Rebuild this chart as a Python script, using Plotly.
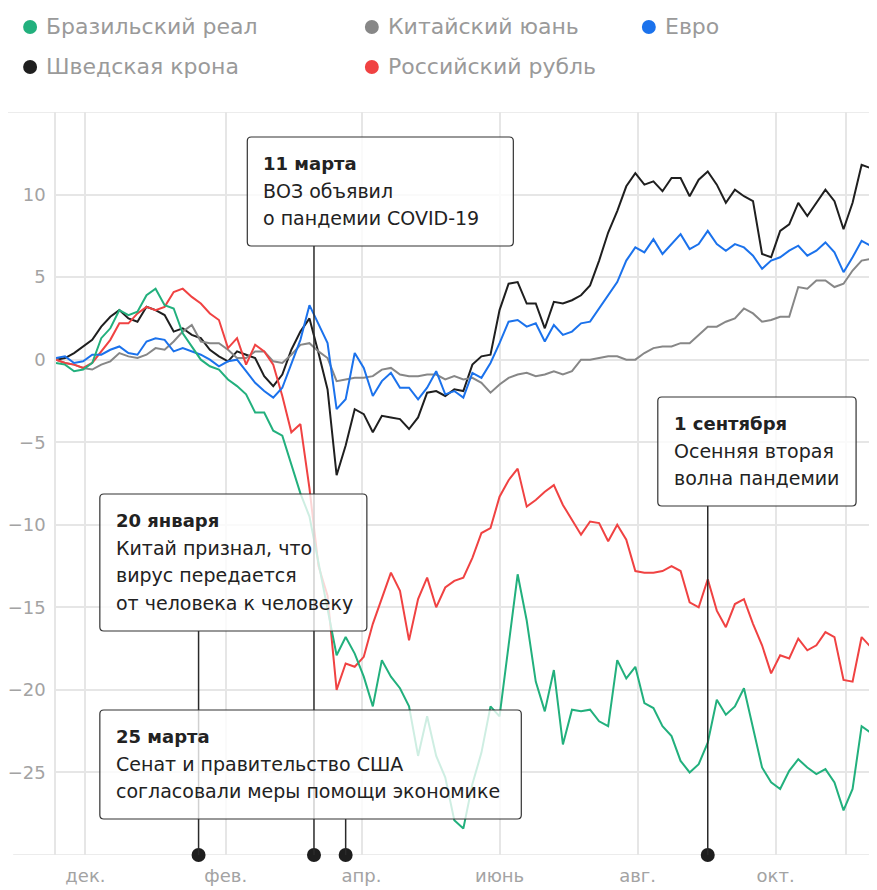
import plotly.graph_objects as go
import pandas as pd

# ---- data: change vs. USD, % (one value every 4 days) ----
dates = pd.date_range("2019-11-18", periods=92, freq="4D")

brl = [-0.2, -0.3, -0.7, -0.6, -0.2, 1.3, 1.9, 3.0, 2.7, 2.9,
       3.9, 4.3, 3.3, 3.1, 1.6, 0.8, 0.0, -0.4, -0.6, -1.2,
       -1.6, -2.1, -3.2, -3.2, -4.3, -4.6, -6.4, -8.1, -9.5, -12.3,
       -15.0, -17.9, -16.8, -17.8, -19.2, -21.0, -18.2, -19.2, -19.9, -21.0,
       -24.0, -21.6, -24.0, -25.3, -27.9, -28.4, -25.7, -23.8, -21.0, -21.6,
       -17.3, -13.0, -15.8, -19.5, -21.3, -18.8, -23.3, -21.2, -21.3, -21.2,
       -21.9, -22.2, -18.2, -19.3, -18.6, -20.8, -21.1, -22.2, -22.8, -24.3,
       -25.0, -24.5, -23.2, -20.6, -21.5, -21.0, -19.9, -22.4, -24.7, -25.6,
       -26.0, -24.9, -24.2, -24.7, -25.1, -24.8, -25.6, -27.3, -26.0, -22.2,
       -22.6, -23.2]

cny = [0.0, -0.2, -0.3, -0.5, -0.6, -0.3, -0.1, 0.4, 0.2, 0.1,
       0.3, 0.7, 0.6, 1.1, 1.7, 2.1, 1.1, 1.0, 1.0, 0.6,
       0.1, 0.1, 0.5, 0.5, -0.1, -0.2, 0.3, 0.9, 1.0, 0.5,
       0.1, -1.3, -1.2, -1.1, -1.1, -1.0, -0.6, -0.5, -0.9, -1.0,
       -1.0, -0.9, -0.9, -1.2, -1.0, -1.2, -1.1, -1.4, -2.0, -1.5,
       -1.1, -0.9, -0.8, -1.0, -0.9, -0.7, -0.9, -0.7, 0.0, 0.0,
       0.1, 0.2, 0.2, 0.0, 0.0, 0.4, 0.7, 0.8, 0.8, 1.0,
       1.0, 1.5, 2.0, 2.0, 2.3, 2.5, 3.1, 2.8, 2.3, 2.4,
       2.6, 2.6, 4.4, 4.3, 4.8, 4.8, 4.4, 4.6, 5.4, 6.0,
       6.1, 6.3]

eur = [0.1, 0.2, -0.2, -0.1, 0.3, 0.3, 0.6, 0.8, 0.4, 0.3,
       1.1, 1.3, 1.2, 0.5, 0.7, 0.5, 0.3, 0.0, -0.4, -0.1,
       0.0, -0.7, -1.4, -1.9, -2.3, -1.7, -0.2, 1.2, 3.3, 2.1,
       1.0, -3.0, -2.4, 0.4, -0.5, -2.2, -1.3, -0.8, -1.7, -1.7,
       -2.4, -1.7, -0.7, -2.1, -1.9, -2.3, -0.8, -1.1, -0.2, 1.0,
       2.3, 2.4, 2.0, 2.2, 1.1, 2.1, 1.5, 1.7, 2.2, 2.3,
       3.1, 3.9, 4.7, 6.0, 6.8, 6.5, 7.3, 6.4, 7.0, 7.6,
       6.7, 7.0, 7.8, 7.0, 6.6, 7.0, 6.8, 6.3, 5.5, 6.0,
       6.2, 6.6, 6.9, 6.3, 6.6, 7.1, 6.5, 5.3, 6.2, 7.2,
       6.9, 7.1]

sek = [0.0, 0.1, 0.4, 0.8, 1.2, 2.0, 2.6, 3.0, 2.5, 2.3,
       3.2, 3.0, 2.7, 1.7, 1.9, 1.5, 1.3, 0.6, 0.2, -0.1,
       0.5, 0.3, 0.1, -1.0, -1.6, -0.9, 0.6, 1.7, 2.5, 0.4,
       -1.8, -7.0, -5.2, -3.0, -3.3, -4.4, -3.4, -3.5, -3.6, -4.2,
       -3.5, -2.0, -1.9, -2.2, -1.8, -1.9, -0.3, 0.2, 0.3, 3.0,
       4.6, 4.7, 3.4, 3.4, 1.9, 3.5, 3.4, 3.6, 3.9, 4.5,
       6.0, 7.7, 9.0, 10.5, 11.3, 10.6, 10.8, 10.2, 11.0, 11.0,
       9.9, 10.9, 11.4, 10.6, 9.5, 10.3, 9.9, 9.6, 6.4, 6.2,
       7.8, 8.2, 9.5, 8.7, 9.5, 10.3, 9.6, 7.9, 9.5, 11.8,
       11.6, 10.8]

rub = [0.0, -0.2, -0.3, -0.5, -0.2, 0.5, 1.2, 2.2, 2.2, 2.8,
       3.2, 3.0, 3.2, 4.1, 4.3, 3.8, 3.4, 2.8, 2.4, 0.7,
       1.3, -0.3, 0.9, 0.5, -0.3, -2.2, -4.4, -3.9, -7.8, -12.5,
       -14.3, -20.0, -18.4, -18.6, -18.0, -16.0, -14.5, -12.9, -14.0, -17.0,
       -14.5, -13.2, -15.0, -13.8, -13.4, -13.2, -12.0, -10.5, -10.2, -8.3,
       -7.3, -6.6, -8.9, -8.5, -8.0, -7.6, -8.8, -9.7, -10.6, -9.8,
       -9.9, -11.0, -10.0, -10.9, -12.8, -12.9, -12.9, -12.8, -12.5, -12.8,
       -14.7, -15.0, -13.3, -15.2, -16.2, -14.8, -14.5, -16.0, -17.3, -19.0,
       -17.9, -18.1, -16.9, -17.6, -17.3, -16.5, -16.8, -19.4, -19.5, -16.8,
       -17.4, -17.6]

names = ["Бразильский реал", "Китайский юань", "Евро", "Шведская крона", "Российский рубль"]
colors = ["#22b07d", "#878787", "#1b72ec", "#1f1f1f", "#f04242"]
series = [brl, cny, eur, sek, rub]

tick_dates = ["2019-12-01", "2020-02-01", "2020-04-01", "2020-06-01",
              "2020-08-01", "2020-10-01", "2020-11-01"]
tick_labels = ["дек.", "фев.", "апр.", "июнь", "авг.", "окт.", ""]
y_ticks = [-25, -20, -15, -10, -5, 0, 5, 10]

event_dates = ["2020-01-20", "2020-03-11", "2020-03-25", "2020-09-01"]
event_titles = ["20 января", "11 марта", "25 марта", "1 сентября"]
event_lines = [["Китай признал, что", "вирус передается", "от человека к человеку"],
               ["ВОЗ объявил", "о пандемии COVID-19"],
               ["Сенат и правительство США", "согласовали меры помощи экономике"],
               ["Осенняя вторая", "волна пандемии"]]

# ---- geometry (screen pixels; the page body adds an 8px margin) ----
OFF = 8
W, H = 877 - OFF, 890 - OFF
PL, PR, PT, PB = 53, 877, 112, 855      # plot area edges on screen
FONT = "DejaVu Sans"
GRID = "#e6e6e6"

# callout boxes (left, top, right, bottom), same order as events
boxes = [(97, 494, 365, 631), (245, 137, 512, 246), (97, 710, 520, 819), (657, 397, 856, 506)]
legend_pos = [(27, 27), (370, 27), (648, 27), (27, 67), (370, 67)]


def xp(px):
    return (px - PL) / (PR - PL)


def yp(py):
    return (PB - py) / (PB - PT)


def rounded(x0, y0, x1, y1, r=4):
    a, b = xp(x0), xp(x1)
    top, bot = yp(y0), yp(y1)
    rx, ry = r / (PR - PL), r / (PB - PT)
    return (f"M {a + rx},{top} L {b - rx},{top} Q {b},{top} {b},{top - ry} "
            f"L {b},{bot + ry} Q {b},{bot} {b - rx},{bot} L {a + rx},{bot} "
            f"Q {a},{bot} {a},{bot + ry} L {a},{top - ry} Q {a},{top} {a + rx},{top} Z")


fig = go.Figure()

#----------------------------------------------------------------------------------------------------
# lines (drawing order: black, grey, red, blue, green on top)
for i in [3, 1, 4, 2, 0]:
    fig.add_trace(go.Scatter(x=dates, y=series[i], mode="lines", name=names[i],
                             line=dict(color=colors[i], width=2),
                             showlegend=False, hoverinfo="skip"))

# event dots on the baseline
fig.add_trace(go.Scatter(x=event_dates, y=[-30] * len(event_dates), mode="markers",
                         marker=dict(size=14, color="#1e1e1e"), cliponaxis=False,
                         showlegend=False, hoverinfo="skip"))

shapes = []
# grid lines at 15 and -30 run further left than the others
shapes.append(dict(type="line", xref="paper", yref="y", x0=xp(0), x1=1, y0=15, y1=15,
                   line=dict(color=GRID, width=1.5), layer="below"))
shapes.append(dict(type="line", xref="paper", yref="y", x0=xp(10), x1=1, y0=-30, y1=-30,
                   line=dict(color=GRID, width=1.5), layer="below"))

# stems from the dots up to the boxes
for d, bx in zip(event_dates, boxes):
    shapes.append(dict(type="line", xref="x", yref="paper", x0=d, x1=d, y0=0, y1=yp(bx[3]),
                       line=dict(color="#2a2a2a", width=1.5), layer="above"))

# semi-transparent boxes over the lines
for bx in boxes:
    shapes.append(dict(type="path", xref="paper", yref="paper", path=rounded(*bx),
                       fillcolor="rgba(255,255,255,0.78)",
                       line=dict(color="#333333", width=1.2), layer="above"))

annotations = []
for bx, title, lines in zip(boxes, event_titles, event_lines):
    tx = bx[0] + 14
    ty = bx[1] + 26
    annotations.append(dict(x=xp(tx), y=yp(ty), xref="paper", yref="paper",
                            text=f"<b>{title}</b>", showarrow=False,
                            xanchor="left", yanchor="middle",
                            font=dict(family=FONT, size=18, color="#222222")))
    for j, ln in enumerate(lines):
        annotations.append(dict(x=xp(tx), y=yp(ty + 27.5 * (j + 1)), xref="paper", yref="paper",
                                text=ln, showarrow=False, xanchor="left", yanchor="middle",
                                font=dict(family=FONT, size=19, color="#222222")))

# legend
for (cx, cy), name, col in zip(legend_pos, names, colors):
    shapes.append(dict(type="circle", xref="paper", yref="paper",
                       x0=xp(cx - 7), x1=xp(cx + 7), y0=yp(cy + 7), y1=yp(cy - 7),
                       fillcolor=col, line=dict(width=0)))
    annotations.append(dict(x=xp(cx + 14), y=yp(cy), xref="paper", yref="paper",
                            text=name, showarrow=False, xanchor="left", yanchor="middle",
                            font=dict(family=FONT, size=22, color="#9a9a9a")))

fig.update_layout(
    width=W, height=H,
    margin=dict(l=PL - OFF, r=0, t=PT - OFF, b=H - (PB - OFF)),
    paper_bgcolor="white", plot_bgcolor="white",
    shapes=shapes, annotations=annotations,
    showlegend=False,
    font=dict(family=FONT),
)

fig.update_xaxes(type="date", range=["2019-11-18 00:00", "2020-11-14 19:00"],
                 tickvals=tick_dates, ticktext=tick_labels,
                 showgrid=True, gridcolor=GRID, gridwidth=1.5,
                 zeroline=False, showline=False, ticks="",
                 ticklabelstandoff=8,
                 tickfont=dict(family=FONT, size=18, color="#a3a3a3"))

fig.update_yaxes(range=[-30, 15], tickvals=y_ticks,
                 ticktext=[str(v).replace("-", "\u2212") for v in y_ticks],
                 showgrid=True, gridcolor=GRID, gridwidth=1.5,
                 zeroline=False, showline=True, linecolor=GRID, linewidth=1.5,
                 ticks="", ticklabelstandoff=5,
                 tickfont=dict(family=FONT, size=18, color="#a3a3a3"))

fig.write_html("out.html")
